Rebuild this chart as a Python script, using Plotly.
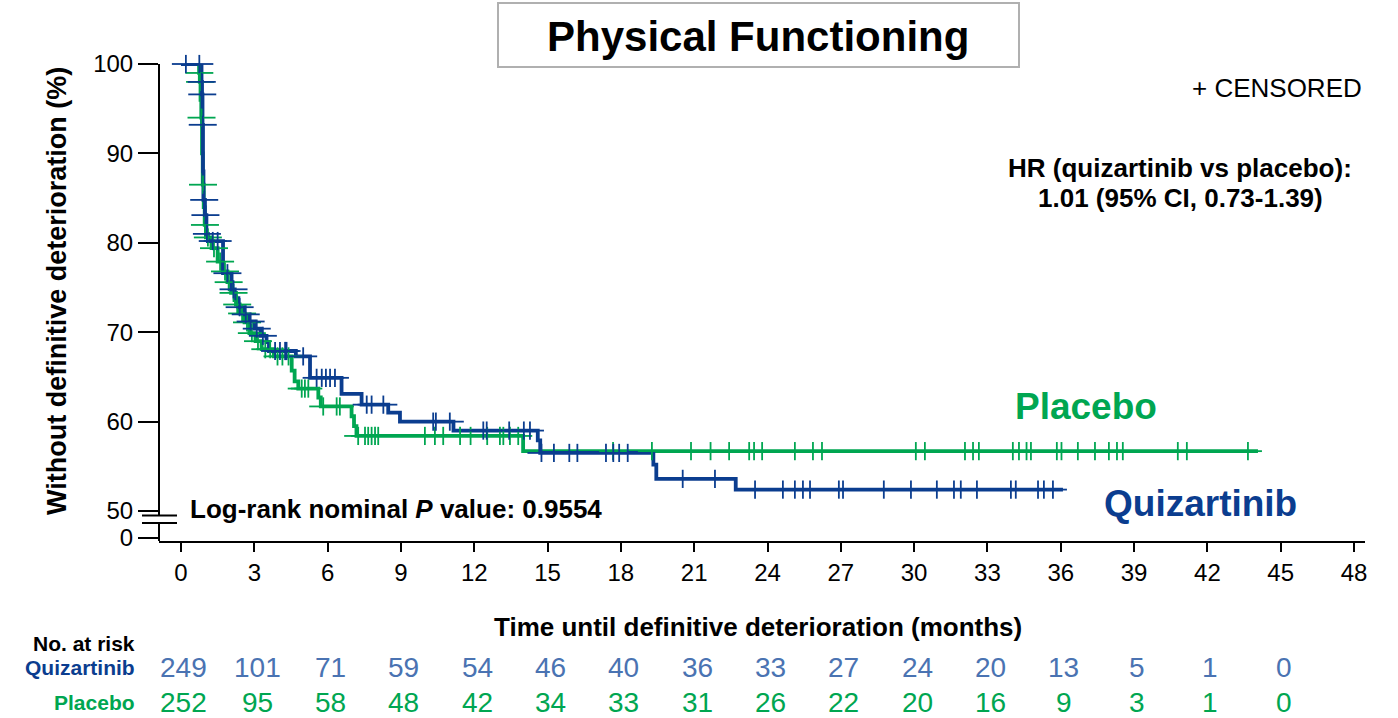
import numpy as np
import plotly.graph_objects as go

# ---------------- data ----------------
quiz_times = [0, 0.84, 0.86, 0.88, 0.90, 0.92, 0.98, 1.04, 1.10, 1.72, 2.07, 2.20, 2.35, 2.55,
              2.75, 3.00, 3.25, 3.50, 3.60, 4.70, 5.28, 6.57, 7.39, 8.48, 8.96, 11.15, 14.60,
              14.70, 19.33, 19.45, 22.70]
quiz_surv = [100, 98.0, 96.6, 93.2, 88.0, 84.8, 83.1, 81.0, 80.2, 76.6, 74.8, 73.8, 72.8, 72.0,
             71.2, 70.4, 69.6, 68.9, 67.9, 67.3, 64.9, 63.1, 61.9, 61.0, 60.0, 59.0, 57.9,
             56.5, 55.2, 53.6, 52.4]
quiz_end = 36.09
quiz_censor = [0.2, 0.75, 0.85, 0.87, 0.89, 0.95, 1.0, 1.06, 1.3, 1.5, 1.9, 2.15, 2.4, 2.65, 2.85,
               3.1, 3.35, 3.85, 4.05, 4.26, 4.32, 5.0, 5.55, 5.76, 5.93, 6.1, 6.3, 7.6, 7.8, 8.28,
               10.32, 10.43, 11.0, 12.37, 12.51, 13.43, 14.03, 14.28, 14.75, 15.26, 15.89, 16.22,
               17.39, 17.69, 17.93, 18.28, 20.53, 21.85, 23.49, 24.63, 25.12, 25.45, 25.74, 26.92,
               27.09, 28.76, 29.87, 30.93, 31.63, 31.91, 32.57, 33.96, 34.16, 35.07, 35.31, 35.68]

plac_times = [0, 0.74, 0.77, 0.80, 0.83, 0.86, 0.89, 0.93, 0.97, 1.02, 1.25, 1.50, 1.70, 1.90,
              2.05, 2.25, 2.40, 2.60, 2.80, 3.05, 3.30, 3.80, 4.53, 4.65, 4.80, 5.62, 5.72, 6.98,
              7.08, 7.18, 14.00]
plac_surv = [100, 99.0, 98.0, 96.0, 94.0, 90.0, 86.5, 84.0, 82.0, 80.6, 79.4, 77.9, 76.8, 75.6,
             74.4, 73.1, 72.1, 71.1, 69.9, 69.0, 68.1, 67.3, 65.7, 64.5, 63.7, 62.7, 61.7, 60.6,
             59.5, 58.4, 56.7]
plac_end = 44.07
plac_censor = [0.75, 0.78, 0.84, 0.9, 0.98, 1.1, 1.35, 1.6, 1.8, 1.95, 2.15, 2.3, 2.5, 2.7, 2.9,
               3.15, 3.45, 3.65, 3.95, 4.15, 4.4, 4.94, 5.07, 5.21, 5.82, 6.37, 6.5, 7.25, 7.53,
               7.66, 7.8, 7.94, 8.07, 9.98, 10.39, 10.73, 11.42, 11.85, 12.53, 13.05, 13.19, 13.46,
               13.8, 17.68, 19.27, 20.87, 21.67, 22.43, 23.25, 23.45, 23.78, 25.12, 25.86, 26.23,
               30.07, 30.44, 32.08, 32.41, 32.65, 34.04, 34.29, 34.6, 34.78, 35.84, 36.03, 36.7,
               37.4, 37.97, 38.3, 38.54, 40.79, 41.16, 43.66]

risk_times = list(range(0, 46, 3))
quiz_risk = [249, 101, 71, 59, 54, 46, 40, 36, 33, 27, 24, 20, 13, 5, 1, 0]
plac_risk = [252, 95, 58, 48, 42, 34, 33, 31, 26, 22, 20, 16, 9, 3, 1, 0]

x_ticks = list(range(0, 49, 3))
y_ticks = [50, 60, 70, 80, 90, 100]

# ---------------- styling ----------------
BLUE = "#0b3d8f"
BLUE_NUM = "#4a73b2"
GREEN = "#00a651"
FONT = "Liberation Sans, Arial, sans-serif"

L, R, T, B = 159, 1365, 64, 541   # plot area in px
W, H = 1398, 718
X0, X1 = -0.9, 48.45
ZERO_POS = 46.99          # displayed position of the "0" tick (axis break)
Y0, Y1 = 46.65, 100.0


def px(xp):
    return (xp - L) / (R - L)


def py(yp):
    return (B - yp) / (B - T)


def step_lookup(times, surv, t):
    idx = np.searchsorted(np.asarray(times), np.asarray(t), side="right") - 1
    return np.asarray(surv)[idx]


fig = go.Figure()


def add_arm(times, surv, end, color, name):
    xs = list(times) + [end]
    ys = list(surv) + [surv[-1]]
    fig.add_trace(go.Scatter(x=xs, y=ys, mode="lines", line=dict(color=color, width=3.8, shape="hv"),
                             name=name, showlegend=False, cliponaxis=False, hoverinfo="skip"))


def add_censor(times, surv, censor, color):
    cy = step_lookup(times, surv, censor)
    fig.add_trace(go.Scatter(x=censor, y=cy, mode="markers", cliponaxis=False, showlegend=False,
                             marker=dict(symbol="line-ew", size=20, color=color,
                                         line=dict(color=color, width=1.8)), hoverinfo="skip"))
    fig.add_trace(go.Scatter(x=censor, y=cy, mode="markers", cliponaxis=False, showlegend=False,
                             marker=dict(symbol="line-ns", size=13, color=color,
                                         line=dict(color=color, width=1.8)), hoverinfo="skip"))


add_arm(plac_times, plac_surv, plac_end, GREEN, "Placebo")
add_arm(quiz_times, quiz_surv, quiz_end, BLUE, "Quizartinib")
add_censor(plac_times, plac_surv, plac_censor, GREEN)
add_censor(quiz_times, quiz_surv, quiz_censor, BLUE)

# ---------------- axes ----------------
fig.update_xaxes(range=[X0, X1], tickvals=x_ticks, ticktext=[str(v) for v in x_ticks],
                 ticks="outside", ticklen=9, tickwidth=2, tickcolor="black",
                 showline=True, linewidth=2, linecolor="black", showgrid=False, zeroline=False,
                 tickfont=dict(size=24, color="black", family=FONT))
fig.update_yaxes(range=[Y0, Y1], tickvals=[ZERO_POS] + y_ticks,
                 ticktext=["0"] + [str(v) for v in y_ticks],
                 ticks="outside", ticklen=20, tickwidth=2, tickcolor="black",
                 showline=False, showgrid=False, zeroline=False,
                 tickfont=dict(size=24, color="black", family=FONT))

# y axis line with break
brk_top, brk_bot = 49.5, 48.66
shapes = [
    dict(type="line", xref="paper", yref="y", x0=0, x1=0, y0=100, y1=brk_top,
         line=dict(color="black", width=2)),
    dict(type="line", xref="paper", yref="y", x0=0, x1=0, y0=brk_bot, y1=Y0,
         line=dict(color="black", width=2)),
    dict(type="line", xref="paper", yref="y", x0=px(142), x1=px(177), y0=brk_top, y1=brk_top,
         line=dict(color="black", width=2)),
    dict(type="line", xref="paper", yref="y", x0=px(142), x1=px(177), y0=brk_bot, y1=brk_bot,
         line=dict(color="black", width=2)),
    # title box
    dict(type="rect", xref="paper", yref="paper", x0=px(498), x1=px(1019), y0=py(67), y1=py(3),
         line=dict(color="#b0b0b0", width=2), fillcolor="white"),
]

ann = []


def text(x, y, s, size, color="black", bold=False, xanchor="center", yanchor="middle",
         xref="paper", yref="paper", angle=0, xshift=0):
    if bold:
        s = "<b>" + s + "</b>"
    ann.append(dict(x=x, y=y, xref=xref, yref=yref, text=s, showarrow=False, xanchor=xanchor,
                    yanchor=yanchor, textangle=angle, xshift=xshift,
                    font=dict(size=size, color=color, family=FONT)))


text(px(758), py(36), "Physical Functioning", 42, bold=True)
text(px(1364), py(88), "+ CENSORED", 26, xanchor="right")
text(px(1180), py(168), "HR (quizartinib vs placebo):", 26, bold=True)
text(px(1180), py(198), "1.01 (95% CI, 0.73-1.39)", 26, bold=True)
text(px(188), py(509), "Log-rank nominal <i>P</i> value: 0.9554", 26, bold=True, xanchor="left")
text(px(1086), py(406), "Placebo", 37, color=GREEN, bold=True)
text(px(1200), py(503), "Quizartinib", 37, color=BLUE, bold=True)
text(px(57), py(291), "Without definitive deterioration (%)", 27, bold=True, angle=-90)
text(px(758), py(627), "Time until definitive deterioration (months)", 26, bold=True)

# risk table
text(px(137), py(643), "No. at risk", 21, bold=True, xanchor="right")
text(px(137), py(668), "Quizartinib", 21, color=BLUE, bold=True, xanchor="right")
text(px(137), py(702), "Placebo", 21, color=GREEN, bold=True, xanchor="right")
for t, q, p in zip(risk_times, quiz_risk, plac_risk):
    text(t, py(668), str(q), 28, color=BLUE_NUM, xref="x", xshift=3)
    text(t, py(702), str(p), 28, color=GREEN, xref="x", xshift=3)

fig.update_layout(width=W, height=H, margin=dict(l=L, r=W - R, t=T, b=H - B),
                  plot_bgcolor="white", paper_bgcolor="white", shapes=shapes, annotations=ann,
                  font=dict(family=FONT, color="black"), showlegend=False)

fig.write_html("out.html", config={"displayModeBar": False},
               post_script="document.body.style.margin='0px';")
